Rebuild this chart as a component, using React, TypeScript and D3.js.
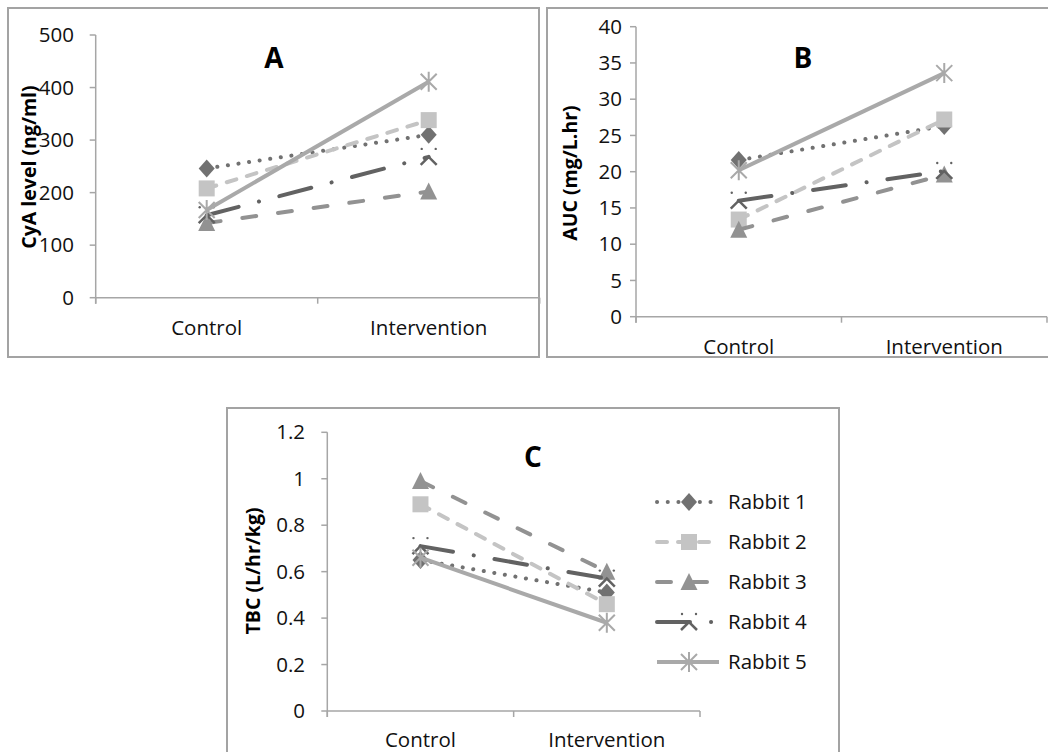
import React from 'react';
import * as d3 from 'd3';

// categories and series
const categories = ['Control', 'Intervention'];
const rabbits = ['Rabbit 1', 'Rabbit 2', 'Rabbit 3', 'Rabbit 4', 'Rabbit 5'];

// A: CyA level (ng/ml), one value per rabbit
const cyaControl = [246, 208, 142, 157, 167];
const cyaIntervention = [310, 338, 202, 268, 411];
const cyaTicks = [0, 100, 200, 300, 400, 500];

// B: AUC (mg/L.hr)
const aucControl = [21.6, 13.4, 12.0, 16.0, 20.2];
const aucIntervention = [26.3, 27.2, 19.6, 20.1, 33.6];
const aucTicks = [0, 5, 10, 15, 20, 25, 30, 35, 40];

// C: TBC (L/hr/kg)
const tbcControl = [0.65, 0.89, 0.99, 0.71, 0.66];
const tbcIntervention = [0.51, 0.46, 0.6, 0.57, 0.38];
const tbcTicks = [0, 0.2, 0.4, 0.6, 0.8, 1, 1.2];

const FONT = '"Open Sans", "DejaVu Sans", sans-serif';
const AXIS = '#a6a6a6';

// line + marker look of each rabbit
const looks = [
  { color: '#717171', dash: '0.1 10.6', cap: 'round', marker: 'diamond' },
  { color: '#c4c4c4', dash: '10 11', cap: 'round', marker: 'square' },
  { color: '#929292', dash: '14 22', cap: 'round', marker: 'triangle' },
  { color: '#626262', dash: '33 21 0.1 21', cap: 'round', marker: 'x' },
  { color: '#a9a9a9', dash: undefined, cap: 'butt', marker: 'star' },
];

function Marker({ kind, x, y, color }) {
  const t = `translate(${x},${y})`;
  if (kind === 'diamond') return <path transform={t} d="M0,-9L8,0L0,9L-8,0Z" fill={color} />;
  if (kind === 'square') return <rect transform={t} x={-8} y={-8} width={16} height={16} fill={color} />;
  if (kind === 'triangle') return <path transform={t} d="M0,-9L8.5,8L-8.5,8Z" fill={color} />;
  if (kind === 'x')
    return (
      <g transform={t} fill={color} stroke={color}>
        <path d="M-8,8L0,0L8,8" fill="none" strokeWidth={2.5} />
        <circle cx={-7} cy={-8} r={1.2} stroke="none" />
        <circle cx={7} cy={-8} r={1.2} stroke="none" />
      </g>
    );
  return (
    <g transform={t} stroke={color} strokeWidth={2}>
      <path d="M-8,-8L8,8M-8,8L8,-8M0,-10L0,10" />
    </g>
  );
}

function Panel({ cfg }) {
  const x = d3.scaleBand().domain(categories).range([cfg.x0, cfg.x1]).paddingInner(0);
  const y = d3.scaleLinear().domain([0, cfg.max]).range([cfg.y0, cfg.y1]);
  const cx = (c) => x(c) + x.bandwidth() / 2;
  const line = d3.line().x((d) => d[0]).y((d) => d[1]);
  const bounds = [cfg.x0, ...categories.map((c) => x(c) + x.bandwidth())];

  return (
    <g fontFamily={FONT}>
      <rect x={cfg.fx} y={cfg.fy} width={cfg.fw} height={cfg.fh} fill="#fff" stroke="#a3a3a3" strokeWidth={2} />
      {/* y axis */}
      <line x1={cfg.x0} x2={cfg.x0} y1={cfg.y1} y2={cfg.y0 + 6} stroke={AXIS} strokeWidth={1.5} />
      {cfg.ticks.map((v) => (
        <g key={v}>
          <line x1={cfg.x0 - 6} x2={cfg.x0} y1={y(v)} y2={y(v)} stroke={AXIS} strokeWidth={1.5} />
          <text x={cfg.labelRight} y={y(v)} dy="0.35em" textAnchor="end" fontSize={20.5} fill="#111">
            {v}
          </text>
        </g>
      ))}
      {/* x axis */}
      <line x1={cfg.x0} x2={cfg.x1} y1={cfg.y0} y2={cfg.y0} stroke={AXIS} strokeWidth={1.5} />
      {bounds.map((b, i) => (
        <line key={i} x1={b} x2={b} y1={cfg.y0} y2={cfg.y0 + 6} stroke={AXIS} strokeWidth={1.5} />
      ))}
      {categories.map((c) => (
        <text key={c} x={cx(c)} y={cfg.catBase} textAnchor="middle" fontSize={20.5} fill="#111">
          {c}
        </text>
      ))}
      <text x={cfg.titleX} y={cfg.titleY} textAnchor="middle" fontSize={28} fontWeight="bold" fill="#000">
        {cfg.title}
      </text>
      <text
        transform={`translate(${cfg.ytX},${cfg.ytY}) rotate(-90)`}
        textAnchor="middle"
        dy="0.35em"
        fontSize={19.5}
        fontWeight="bold"
        fill="#000"
      >
        {cfg.yTitle}
      </text>
      {rabbits.map((r, i) => {
        const lk = looks[i];
        const pts = [
          [cx(categories[0]), y(cfg.control[i])],
          [cx(categories[1]), y(cfg.intervention[i])],
        ];
        return (
          <g key={r}>
            <path d={line(pts)} fill="none" stroke={lk.color} strokeWidth={4} strokeDasharray={lk.dash} strokeLinecap={lk.cap} />
            {pts.map((p, j) => (
              <Marker key={j} kind={lk.marker} x={p[0]} y={p[1]} color={lk.color} />
            ))}
          </g>
        );
      })}
    </g>
  );
}

function Legend({ x, y0, step }) {
  return (
    <g fontFamily={FONT}>
      {rabbits.map((r, i) => {
        const lk = looks[i];
        const yy = y0 + i * step;
        return (
          <g key={r}>
            <line x1={x} x2={x + 62} y1={yy} y2={yy} stroke={lk.color} strokeWidth={4} strokeDasharray={lk.dash} strokeLinecap={lk.cap} />
            <Marker kind={lk.marker} x={x + 32} y={yy} color={lk.color} />
            <text x={x + 71} y={yy} dy="0.35em" fontSize={20.5} fill="#111">
              {r}
            </text>
          </g>
        );
      })}
    </g>
  );
}

const panelA = {
  fx: 8, fy: 8, fw: 531, fh: 349,
  x0: 95.7, x1: 539.7, y0: 297.7, y1: 35, max: 500,
  ticks: cyaTicks, labelRight: 74, catBase: 335,
  title: 'A', titleX: 274, titleY: 68,
  yTitle: 'CyA level (ng/ml)', ytX: 29, ytY: 167,
  control: cyaControl, intervention: cyaIntervention,
};

const panelB = {
  fx: 547, fy: 8, fw: 513, fh: 349,
  x0: 636, x1: 1047, y0: 316.7, y1: 26.7, max: 40,
  ticks: aucTicks, labelRight: 622, catBase: 354,
  title: 'B', titleX: 803, titleY: 68,
  yTitle: 'AUC (mg/L.hr)', ytX: 570, ytY: 173,
  control: aucControl, intervention: aucIntervention,
};

const panelC = {
  fx: 227, fy: 408, fw: 612, fh: 360,
  x0: 327.3, x1: 700, y0: 711, y1: 432.3, max: 1.2,
  ticks: tbcTicks, labelRight: 305, catBase: 747,
  title: 'C', titleX: 533, titleY: 467,
  yTitle: 'TBC (L/hr/kg)', ytX: 253, ytY: 571,
  control: tbcControl, intervention: tbcIntervention,
};

export default function App() {
  return (
    <svg width={1048} height={752} style={{ position: 'absolute', left: 0, top: 0, background: '#fff' }}>
      <Panel cfg={panelA} />
      <Panel cfg={panelB} />
      <Panel cfg={panelC} />
      <Legend x={657} y0={502} step={40} />
    </svg>
  );
}
